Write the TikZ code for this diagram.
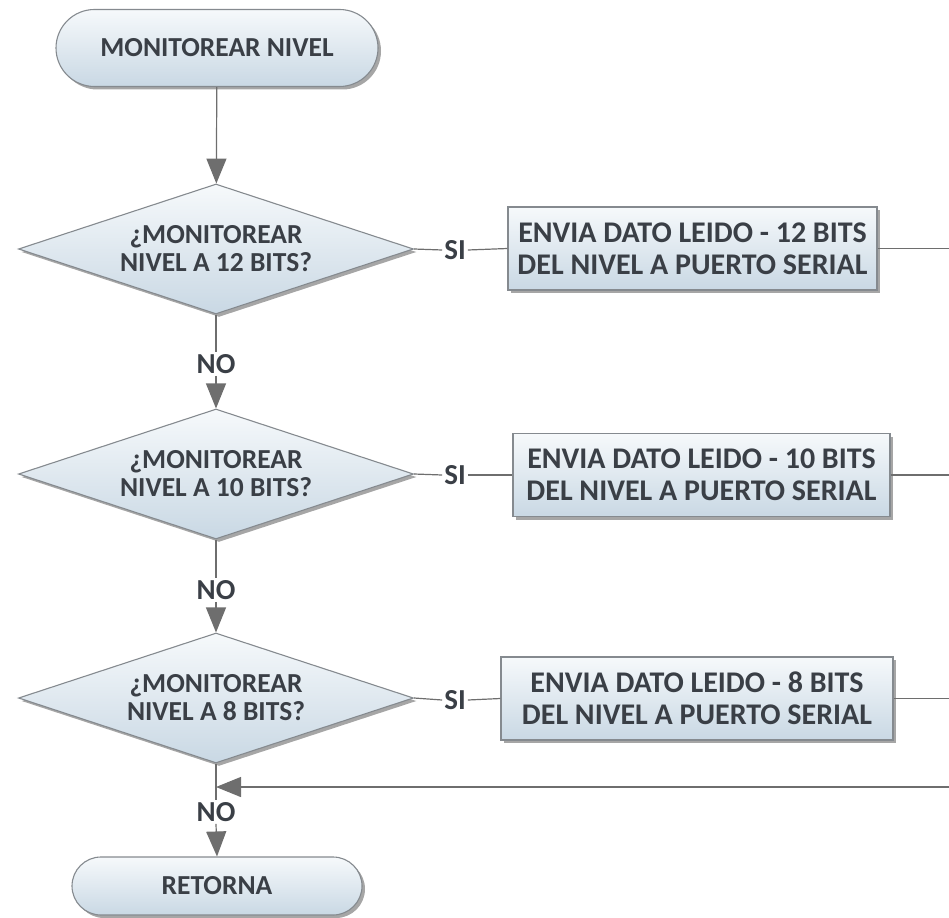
\documentclass[tikz,border=0pt]{standalone}
\usepackage{fontspec}
\setmainfont{Carlito}
\usetikzlibrary{shapes.geometric,shapes.misc,shadows,arrows.meta}
\definecolor{edgegray}{HTML}{858A8F}
\definecolor{txtgray}{HTML}{3A3F46}
\definecolor{wiregray}{HTML}{6E6E6E}
\definecolor{filltop}{HTML}{F6F9FB}
\definecolor{fillbot}{HTML}{C9D8E4}
\begin{document}
\begin{tikzpicture}[x=1pt,y=-1pt,
  base/.style={draw=edgegray, line width=1.1pt, text=txtgray, align=center,
    top color=filltop, bottom color=fillbot,
    drop shadow={shadow xshift=3pt, shadow yshift=-3pt, fill=black, opacity=0.35}},
  term/.style={base, rounded rectangle, inner sep=0pt,
    font=\bfseries\fontsize{27.5}{30}\selectfont},
  decision/.style={base, diamond, aspect=3, inner sep=0pt,
    minimum width=395pt, minimum height=130pt,
    font=\bfseries\fontsize{27.5}{28}\selectfont},
  process/.style={base, rectangle, inner sep=0pt, minimum height=83pt,
    font=\bfseries\fontsize{30}{32}\selectfont},
  wire/.style={draw=wiregray, line width=1.2pt},
  flow/.style={wire, -{Triangle[length=25pt,width=20pt,fill=wiregray]}},
  lbl/.style={text=txtgray, inner sep=2pt, font=\bfseries\fontsize{29}{30}\selectfont}
]
\useasboundingbox (0,0) rectangle (949,917);

% terminals
\node[term, minimum width=322pt, minimum height=77pt] (start) at (217,48) {MONITOREAR NIVEL};
\node[term, minimum width=290pt, minimum height=58pt] (ret) at (217,886) {RETORNA};

% decisions
\node[decision] (d1) at (216,249) {¿MONITOREAR\\NIVEL A 12 BITS?};
\node[decision] (d2) at (216,474) {¿MONITOREAR\\NIVEL A 10 BITS?};
\node[decision] (d3) at (216,698) {¿MONITOREAR\\NIVEL A 8 BITS?};

% processes
\node[process, minimum width=369pt] (p1) at (692.5,248.5) {ENVIA DATO LEIDO - 12 BITS\\DEL NIVEL A PUERTO SERIAL};
\node[process, minimum width=377pt] (p2) at (701.5,475) {ENVIA DATO LEIDO - 10 BITS\\DEL NIVEL A PUERTO SERIAL};
\node[process, minimum width=392pt] (p3) at (697,698.5) {ENVIA DATO LEIDO - 8 BITS\\DEL NIVEL A PUERTO SERIAL};

% branch labels
\node[lbl] (si1) at (455,250) {SI};
\node[lbl] (si2) at (455,475) {SI};
\node[lbl] (si3) at (455,700) {SI};
\node[lbl] (no1) at (216,364) {NO};
\node[lbl] (no2) at (216,590) {NO};
\node[lbl] (no3) at (216,812) {NO};

% loose ends on the right edge and the merge point
\coordinate (r1) at (949,248.5);
\coordinate (r2) at (949,475);
\coordinate (r3) at (949,698.5);
\coordinate (rback) at (949,787);
\coordinate (merge) at (216,787);

% main column
\draw[flow] (start) -- (d1);
\draw[wire] (d1.south) -- (no1.north);
\draw[flow] (no1.south) -- (d2.north);
\draw[wire] (d2.south) -- (no2.north);
\draw[flow] (no2.south) -- (d3.north);
\draw[wire] (d3.south) -- (no3.north);
\draw[flow] (no3.south) -- (ret.north);

% yes branches
\draw[wire] (d1.east) -- (si1.west);
\draw[wire] (si1.east) -- (p1.west);
\draw[wire] (p1.east) -- (r1);
\draw[wire] (d2.east) -- (si2.west);
\draw[wire] (si2.east) -- (p2.west);
\draw[wire] (p2.east) -- (r2);
\draw[wire] (d3.east) -- (si3.west);
\draw[wire] (si3.east) -- (p3.west);
\draw[wire] (p3.east) -- (r3);

% return line
\draw[flow] (rback) -- (merge);
\end{tikzpicture}
\end{document}
